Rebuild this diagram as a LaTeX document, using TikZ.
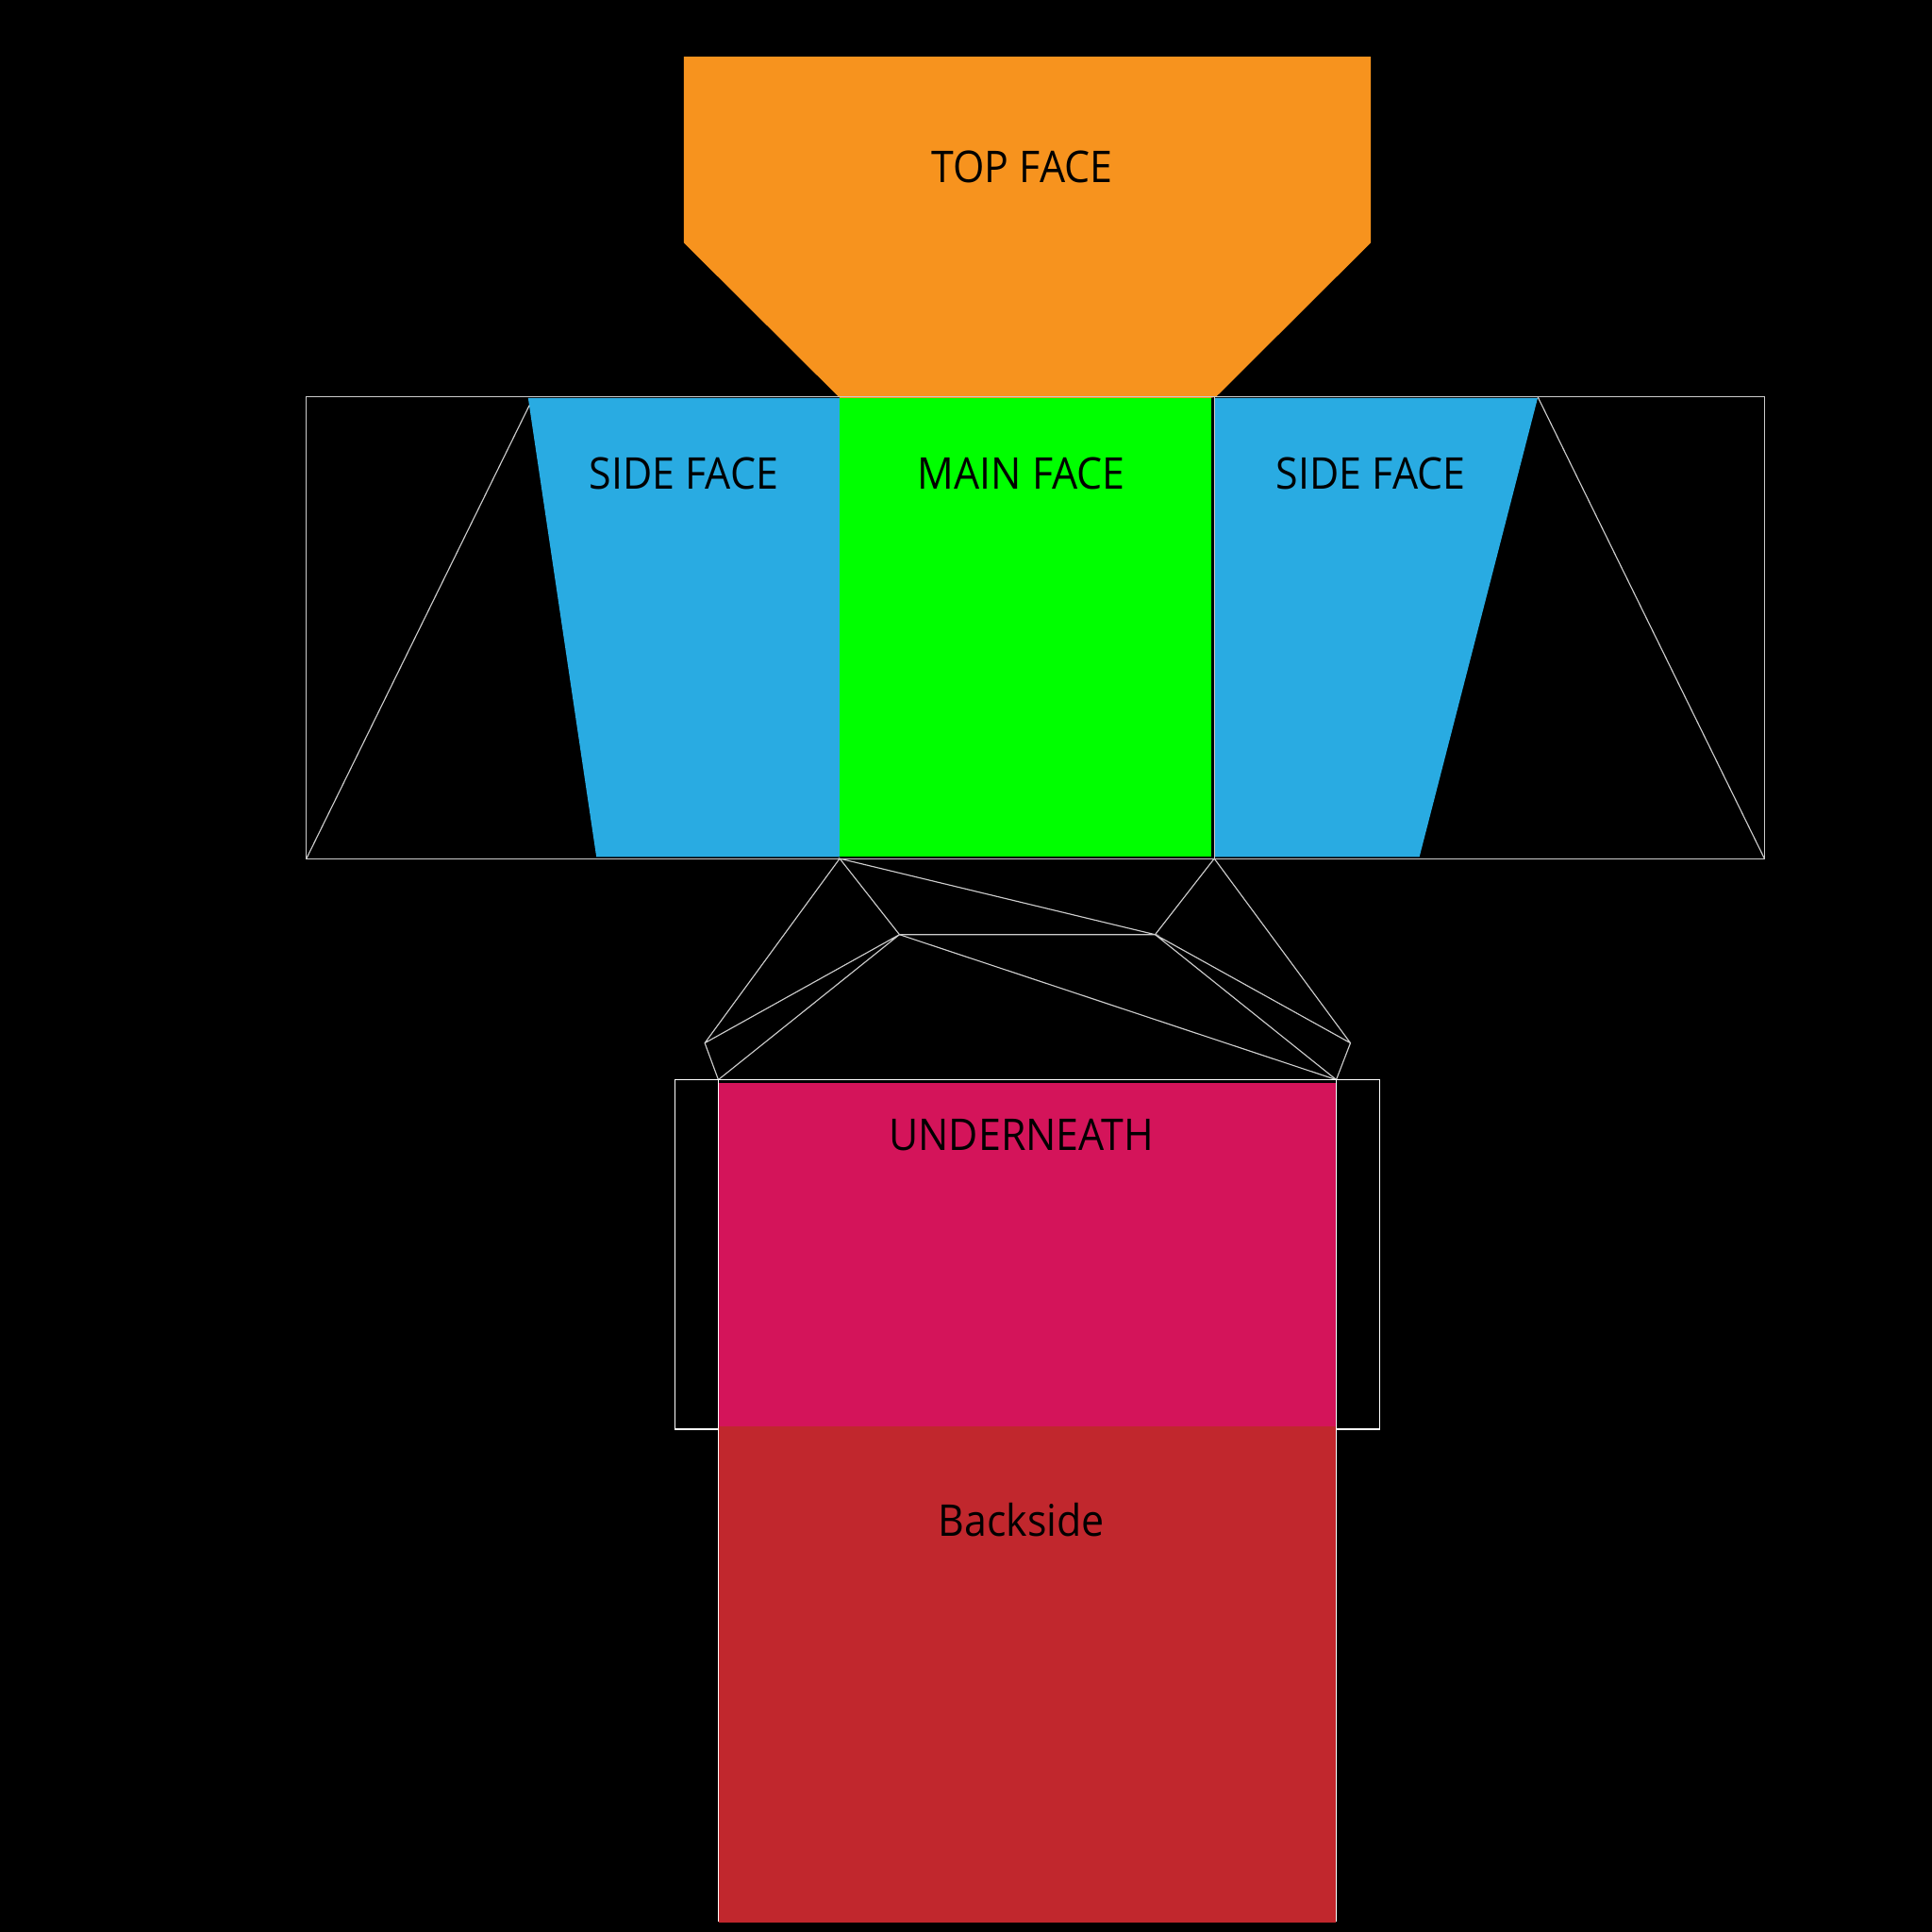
\documentclass[tikz,border=0pt]{standalone}
\usepackage{fontspec}
\setmainfont[FakeStretch=0.925]{Open Sans}
\begin{document}
\begin{tikzpicture}[x=0.1mm,y=-0.1mm,
  wire/.style={draw=white!80!black,line width=0.25pt,line join=miter},
  wirew/.style={draw=white,line width=0.28pt,line join=miter},
  lab/.style={font=\fontsize{10.1}{12}\selectfont,text=black,inner sep=0pt,anchor=base}]
\useasboundingbox (0,0) rectangle (1568,1568);
\fill[black] (0,0) rectangle (1568,1568);
% coordinates
\coordinate (oa) at (248.7,322);
\coordinate (ob) at (1432,322);
\coordinate (oc) at (1432,696.8);
\coordinate (od) at (248.7,696.8);
\coordinate (sl1) at (429.6,329);
\coordinate (sr1) at (1248,322);
\coordinate (m1) at (681.5,322.9);
\coordinate (m3) at (983,695.4);
\coordinate (m4) at (681.5,696.8);
\coordinate (r2) at (985.5,322);
\coordinate (r3) at (985.5,696.8);
\coordinate (u1) at (583,876.3);
\coordinate (u2) at (1084.5,876.3);
\coordinate (u3) at (1084.5,1160);
\coordinate (u4) at (583,1160);
\coordinate (b3) at (1084.5,1559.5);
\coordinate (b4) at (583,1559.5);
\coordinate (c1) at (730,758.5);
\coordinate (c2) at (937.5,758.5);
\coordinate (t1) at (572,846.5);
\coordinate (t2) at (1096,846.5);
\coordinate (s1) at (547.8,876.3);
\coordinate (s2) at (547.8,1160);
\coordinate (s3) at (1119.5,876.3);
\coordinate (s4) at (1119.5,1160);
% faces
\fill[fill={rgb,255:red,247;green,147;blue,30}] (555,46) -- (1112.5,46) -- (1112.5,197) -- (987,322) -- (983,322.9) -- (681.5,322.9) -- (555,197) -- cycle;
\fill[fill={rgb,255:red,41;green,171;blue,226}] (428.6,322.9) -- (681.5,322.9) -- (681.5,695.4) -- (484,695.4) -- cycle;
\fill[fill={rgb,255:red,41;green,171;blue,226}] (986,322.9) -- (1248,322.9) -- (1152,695.4) -- (986,695.4) -- cycle;
\fill[fill={rgb,255:red,0;green,255;blue,0}] (m1) rectangle (m3);
\fill[fill={rgb,255:red,212;green,20;blue,90}] (583.5,878.8) rectangle (1084.5,1157.7);
\fill[fill={rgb,255:red,193;green,39;blue,45}] (583.5,1157.7) rectangle (1084.5,1560);
% wires
\draw[wire] (oa) -- (ob) -- (oc) -- (od) -- cycle;
\draw[wire] (od) -- (sl1);
\draw[wire] (oc) -- (sr1);
\draw[wire] (r2) -- (r3);
\draw[wire] (m4) -- (c1) -- (c2) -- cycle;
\draw[wire] (r3) -- (c2);
\draw[wire] (m4) -- (t1) -- (u1) -- (c1) -- (t1);
\draw[wire] (r3) -- (t2) -- (u2) -- (c2) -- (t2);
\draw[wire] (c1) -- (u2);
\draw[wirew] (b4) -- (u1) -- (u2) -- (b3);
\draw[wirew] (u1) -- (s1) -- (s2) -- (u4);
\draw[wirew] (u2) -- (s3) -- (s4) -- (u3);
% labels
\node[lab] (top) at (829.5,148) {TOP FACE};
\node[lab] (sideL) at (555,397) {SIDE FACE};
\node[lab] (main) at (829,397) {MAIN FACE};
\node[lab] (sideR) at (1112.5,397) {SIDE FACE};
\node[lab] (under) at (829,934) {UNDERNEATH};
\node[lab] (back) at (829,1247) {Backside};
\end{tikzpicture}
\end{document}
